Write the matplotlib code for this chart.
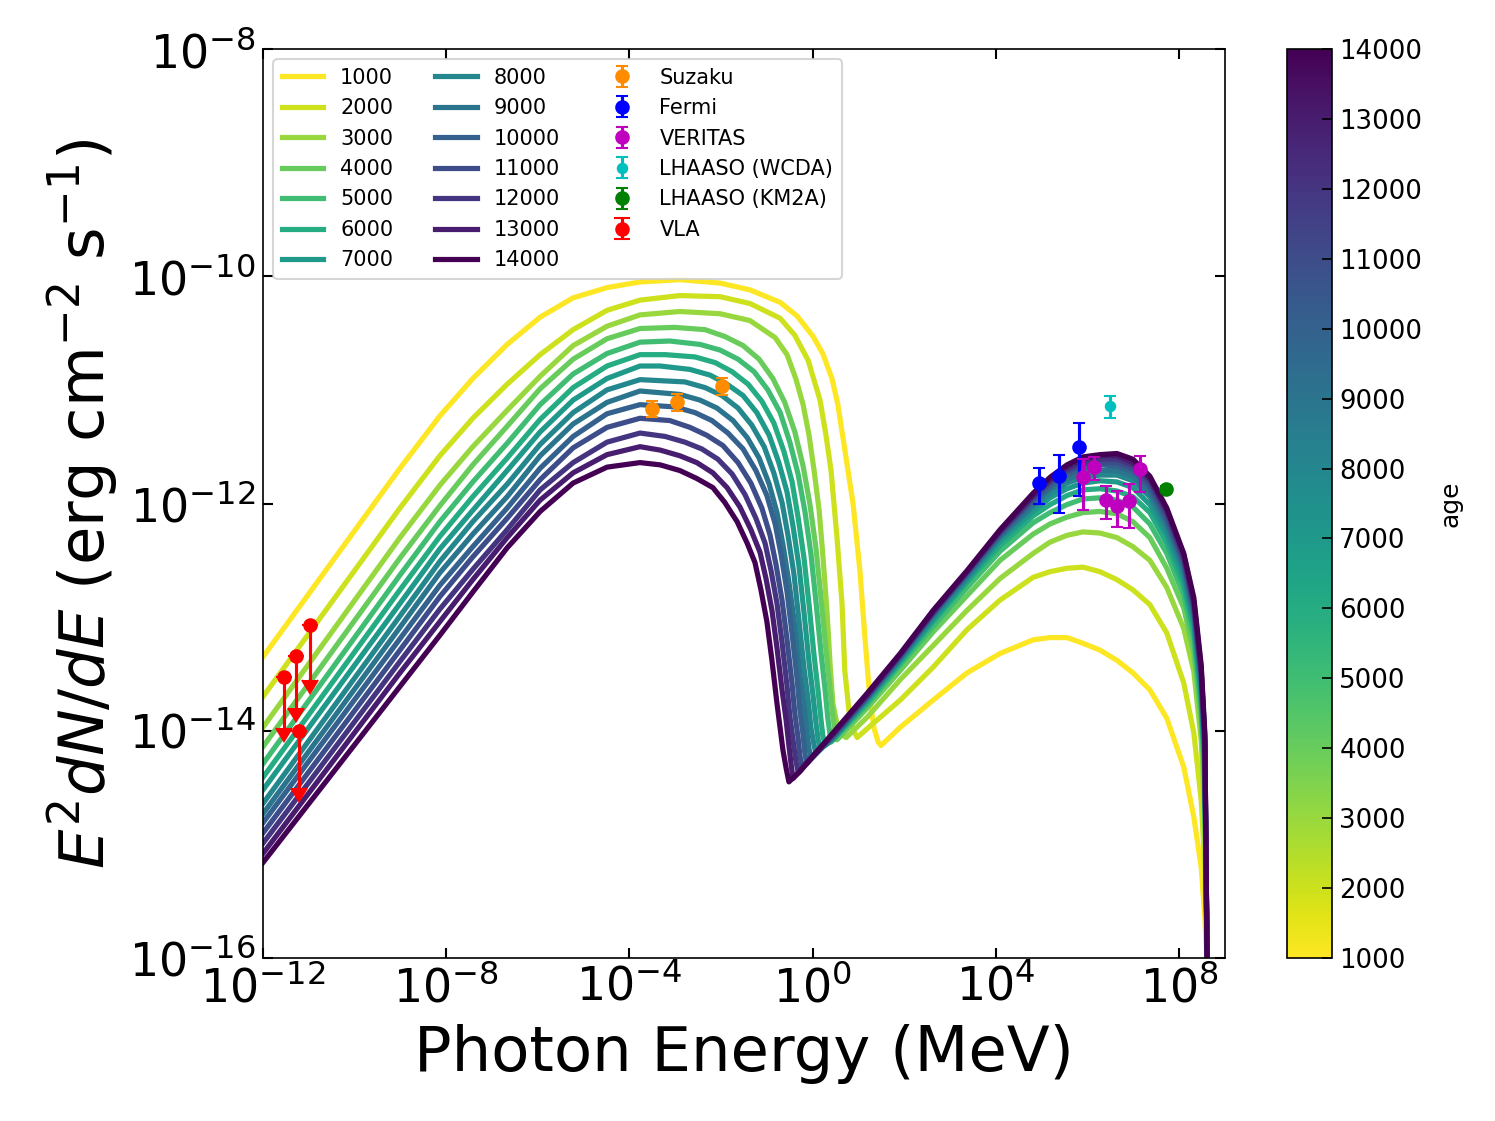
import numpy as np
import matplotlib
matplotlib.use("Agg")
import matplotlib.pyplot as plt
from matplotlib import colors
from matplotlib.ticker import FixedLocator, NullLocator, LogFormatterSciNotation

# ---------------- data (log10 values) ----------------
AGES = [1000, 2000, 3000, 4000, 5000, 6000, 7000, 8000, 9000, 10000, 11000, 12000, 13000, 14000]

# synchrotron rising part: common energy grid (log10 MeV)
SYNC_LOGE = [-12.00, -9.01, -8.14, -7.42, -6.67, -5.95, -5.23, -4.49, -3.77]
SYNC_LOGF = [
    [-13.35, -11.69, -11.23, -10.90, -10.60, -10.36, -10.19, -10.10, -10.05],
    [-13.70, -12.04, -11.58, -11.25, -10.95, -10.69, -10.47, -10.30, -10.21],
    [-13.97, -12.30, -11.84, -11.50, -11.18, -10.88, -10.61, -10.44, -10.34],
    [-14.14, -12.48, -12.02, -11.66, -11.32, -10.99, -10.73, -10.55, -10.46],
    [-14.29, -12.63, -12.16, -11.81, -11.47, -11.13, -10.86, -10.68, -10.58],
    [-14.41, -12.76, -12.29, -11.94, -11.60, -11.26, -10.98, -10.79, -10.69],
    [-14.52, -12.88, -12.40, -12.06, -11.71, -11.37, -11.09, -10.90, -10.79],
    [-14.64, -12.99, -12.51, -12.16, -11.83, -11.48, -11.20, -11.00, -10.91],
    [-14.73, -13.09, -12.61, -12.27, -11.94, -11.58, -11.30, -11.11, -11.01],
    [-14.81, -13.19, -12.72, -12.38, -12.04, -11.69, -11.41, -11.21, -11.13],
    [-14.90, -13.29, -12.82, -12.47, -12.13, -11.79, -11.51, -11.33, -11.25],
    [-14.99, -13.39, -12.93, -12.58, -12.23, -11.88, -11.64, -11.46, -11.38],
    [-15.08, -13.49, -13.04, -12.67, -12.30, -11.97, -11.73, -11.57, -11.50],
    [-15.16, -13.61, -13.16, -12.78, -12.39, -12.07, -11.82, -11.68, -11.64],
]

# synchrotron cut-off and dip region (per age)
CUT_LOGE = [
    [-2.90, -2.02, -1.37, -0.71, -0.34, 0.01, 0.22, 0.42, 0.55, 0.66, 0.77, 0.88, 1.03, 1.14, 1.25, 1.34, 1.43, 1.49],
    [-2.90, -2.02, -1.37, -0.71, -0.39, -0.10, 0.16, 0.29, 0.40, 0.53, 0.64, 0.70, 0.79, 0.88, 0.97, 1.25],
    [-2.90, -2.02, -1.37, -0.82, -0.56, -0.37, -0.21, -0.08, 0.03, 0.14, 0.22, 0.31, 0.38, 0.44, 0.53, 0.62, 0.73, 1.19],
    [-3.01, -2.35, -1.92, -1.52, -1.17, -0.87, -0.61, -0.39, -0.21, -0.06, 0.07, 0.18, 0.29, 0.38, 0.44, 0.49, 0.53, 1.19],
    [-3.12, -2.46, -2.02, -1.63, -1.28, -0.98, -0.71, -0.50, -0.32, -0.17, -0.04, 0.07, 0.18, 0.27, 0.33, 0.40, 1.19],
    [-3.22, -2.57, -2.13, -1.76, -1.41, -1.11, -0.85, -0.63, -0.45, -0.32, -0.19, -0.08, 0.03, 0.12, 0.18, 0.22, 0.27, 0.44, 1.19],
    [-3.33, -2.68, -2.24, -1.87, -1.52, -1.22, -0.95, -0.74, -0.56, -0.43, -0.30, -0.19, -0.08, 0.01, 0.07, 0.12, 0.16, 0.44, 1.19],
    [-2.79, -2.35, -1.98, -1.63, -1.33, -1.06, -0.85, -0.67, -0.54, -0.41, -0.30, -0.19, -0.10, -0.04, 0.03, 0.07, 0.44, 1.19],
    [-2.90, -2.46, -2.09, -1.74, -1.43, -1.17, -0.95, -0.78, -0.65, -0.52, -0.39, -0.28, -0.19, -0.13, -0.08, -0.04, 0.44, 1.19],
    [-3.01, -2.57, -2.20, -1.85, -1.52, -1.24, -1.00, -0.82, -0.69, -0.56, -0.45, -0.34, -0.28, -0.21, -0.17, -0.13, 0.44, 1.19],
    [-3.12, -2.68, -2.31, -1.96, -1.63, -1.35, -1.11, -0.93, -0.80, -0.67, -0.56, -0.45, -0.39, -0.32, -0.28, -0.23, 0.44, 1.19],
    [-3.22, -2.79, -2.42, -2.07, -1.76, -1.48, -1.24, -1.04, -0.91, -0.78, -0.67, -0.56, -0.50, -0.43, -0.37, -0.32, 0.44, 1.19],
    [-3.33, -2.90, -2.53, -2.18, -1.87, -1.59, -1.35, -1.15, -1.02, -0.89, -0.78, -0.67, -0.58, -0.52, -0.47, -0.43, 0.44, 1.19],
    [-3.33, -2.90, -2.53, -2.18, -1.92, -1.65, -1.43, -1.26, -1.13, -1.00, -0.89, -0.78, -0.71, -0.65, -0.58, -0.52, -0.28, 0.44, 1.19],
]
CUT_LOGF = [
    [-10.03, -10.06, -10.12, -10.23, -10.35, -10.53, -10.68, -10.90, -11.13, -11.42, -11.71, -12.00, -12.59, -13.18, -13.73, -13.98, -14.10, -14.13],
    [-10.17, -10.18, -10.24, -10.37, -10.52, -10.74, -11.09, -11.40, -11.71, -12.30, -12.88, -13.47, -13.82, -13.99, -14.06, -13.96],
    [-10.31, -10.33, -10.39, -10.54, -10.69, -10.90, -11.13, -11.40, -11.71, -12.06, -12.45, -12.94, -13.42, -13.76, -13.94, -14.03, -14.06, -13.88],
    [-10.45, -10.47, -10.53, -10.61, -10.73, -10.90, -11.11, -11.37, -11.67, -12.01, -12.39, -12.83, -13.29, -13.64, -13.87, -14.01, -14.08, -13.80],
    [-10.57, -10.60, -10.65, -10.73, -10.84, -11.00, -11.20, -11.46, -11.74, -12.07, -12.44, -12.86, -13.31, -13.64, -13.89, -14.10, -13.77],
    [-10.69, -10.71, -10.76, -10.84, -10.95, -11.10, -11.29, -11.54, -11.81, -12.12, -12.48, -12.89, -13.34, -13.66, -13.90, -14.04, -14.13, -14.08, -13.75],
    [-10.79, -10.82, -10.87, -10.95, -11.05, -11.20, -11.40, -11.64, -11.90, -12.20, -12.55, -12.96, -13.40, -13.70, -13.93, -14.08, -14.16, -14.07, -13.73],
    [-10.93, -10.98, -11.05, -11.16, -11.31, -11.50, -11.73, -11.99, -12.28, -12.62, -13.03, -13.45, -13.73, -13.97, -14.13, -14.20, -14.06, -13.72],
    [-11.04, -11.09, -11.16, -11.27, -11.42, -11.60, -11.83, -12.08, -12.36, -12.69, -13.08, -13.50, -13.77, -14.00, -14.16, -14.24, -14.06, -13.71],
    [-11.15, -11.20, -11.27, -11.38, -11.52, -11.71, -11.93, -12.18, -12.45, -12.78, -13.15, -13.55, -13.82, -14.04, -14.20, -14.29, -14.05, -13.70],
    [-11.27, -11.33, -11.40, -11.49, -11.64, -11.82, -12.04, -12.28, -12.54, -12.85, -13.20, -13.59, -13.85, -14.06, -14.22, -14.32, -14.04, -13.70],
    [-11.41, -11.46, -11.52, -11.61, -11.74, -11.92, -12.13, -12.35, -12.59, -12.88, -13.22, -13.61, -13.87, -14.08, -14.26, -14.36, -14.03, -13.69],
    [-11.53, -11.58, -11.64, -11.73, -11.86, -12.03, -12.23, -12.43, -12.66, -12.94, -13.27, -13.64, -13.91, -14.13, -14.30, -14.42, -14.03, -13.68],
    [-11.66, -11.71, -11.78, -11.86, -11.99, -12.16, -12.35, -12.52, -12.76, -13.04, -13.38, -13.76, -13.98, -14.17, -14.33, -14.45, -14.36, -14.02, -13.67],
]

# inverse-Compton part: common energy grid (log10 MeV)
IC_LOGE = [1.91, 2.63, 3.37, 4.09, 4.81, 5.18, 5.55, 5.90, 6.27, 6.64, 6.99, 7.36, 7.73, 8.10, 8.32, 8.48, 8.56, 8.61]
IC_LOGF = [
    [-13.97, -13.73, -13.49, -13.32, -13.20, -13.18, -13.18, -13.23, -13.29, -13.38, -13.49, -13.64, -13.89, -14.32, -14.76, -15.20, -15.64, -16.06],
    [-13.73, -13.44, -13.11, -12.85, -12.65, -12.60, -12.57, -12.56, -12.60, -12.67, -12.76, -12.89, -13.14, -13.58, -14.02, -14.61, -15.20, -16.06],
    [-13.55, -13.25, -12.94, -12.66, -12.44, -12.34, -12.28, -12.25, -12.26, -12.30, -12.38, -12.50, -12.74, -13.10, -13.48, -14.08, -14.74, -16.06],
    [-13.47, -13.13, -12.81, -12.50, -12.27, -12.18, -12.12, -12.08, -12.07, -12.09, -12.16, -12.30, -12.57, -12.92, -13.31, -13.91, -14.55, -16.06],
    [-13.42, -13.08, -12.74, -12.42, -12.17, -12.08, -12.01, -11.96, -11.95, -11.97, -12.03, -12.18, -12.44, -12.81, -13.20, -13.80, -14.43, -16.06],
    [-13.40, -13.04, -12.69, -12.37, -12.11, -12.01, -11.93, -11.88, -11.87, -11.89, -11.94, -12.08, -12.35, -12.73, -13.12, -13.73, -14.36, -16.06],
    [-13.38, -13.02, -12.67, -12.33, -12.07, -11.95, -11.87, -11.82, -11.80, -11.81, -11.86, -12.01, -12.28, -12.67, -13.06, -13.67, -14.30, -16.06],
    [-13.37, -13.00, -12.65, -12.30, -12.03, -11.91, -11.82, -11.77, -11.75, -11.75, -11.80, -11.94, -12.23, -12.61, -13.02, -13.62, -14.24, -16.06],
    [-13.36, -12.98, -12.63, -12.29, -12.01, -11.87, -11.79, -11.72, -11.71, -11.71, -11.76, -11.90, -12.18, -12.57, -12.97, -13.57, -14.20, -16.06],
    [-13.35, -12.97, -12.62, -12.27, -11.98, -11.85, -11.75, -11.69, -11.66, -11.67, -11.72, -11.86, -12.15, -12.53, -12.94, -13.54, -14.15, -16.06],
    [-13.34, -12.96, -12.61, -12.26, -11.96, -11.82, -11.72, -11.66, -11.64, -11.64, -11.69, -11.83, -12.11, -12.51, -12.91, -13.50, -14.12, -16.06],
    [-13.33, -12.96, -12.60, -12.25, -11.94, -11.80, -11.70, -11.64, -11.61, -11.61, -11.66, -11.80, -12.08, -12.48, -12.89, -13.48, -14.08, -16.06],
    [-13.33, -12.95, -12.60, -12.24, -11.93, -11.79, -11.68, -11.61, -11.58, -11.58, -11.64, -11.78, -12.06, -12.45, -12.86, -13.45, -14.06, -16.06],
    [-13.32, -12.94, -12.59, -12.23, -11.91, -11.77, -11.66, -11.59, -11.57, -11.56, -11.61, -11.76, -12.04, -12.44, -12.83, -13.42, -14.02, -16.06],
]

# observational data (log10 E [MeV], log10 flux, log10 of error ends)
SUZAKU_LOGE = [-3.51, -2.96, -1.98]
SUZAKU_LOGF = [-11.17, -11.11, -10.97]
SUZAKU_LOGERR = [0.07, 0.075, 0.075]

FERMI_LOGE = [4.94, 5.38, 5.81]
FERMI_LOGF = [-11.82, -11.76, -11.50]
FERMI_LOGLO = [-12.00, -12.08, -11.93]
FERMI_LOGHI = [-11.69, -11.57, -11.29]

VERITAS_LOGE = [5.90, 6.14, 6.40, 6.64, 6.90, 7.14]
VERITAS_LOGF = [-11.77, -11.68, -11.97, -12.02, -11.98, -11.70]
VERITAS_LOGLO = [-12.06, -11.79, -12.14, -12.21, -12.22, -11.90]
VERITAS_LOGHI = [-11.61, -11.59, -11.85, -11.89, -11.83, -11.58]

WCDA_LOGE = [6.50]
WCDA_LOGF = [-11.14]
WCDA_LOGLO = [-11.25]
WCDA_LOGHI = [-11.05]

KM2A_LOGE = [7.71]
KM2A_LOGF = [-11.87]
KM2A_LOGERR = [0.02]

VLA_LOGE = [-11.54, -11.28, -10.97, -11.21]
VLA_LOGF = [-13.53, -13.34, -13.07, -14.00]
VLA_LOGTIP = [-13.98, -13.80, -13.55, -14.50]

X_TICKS = [1e-12, 1e-8, 1e-4, 1e0, 1e4, 1e8]
Y_TICKS = [1e-16, 1e-14, 1e-12, 1e-10, 1e-8]
CB_TICKS = list(range(1000, 14001, 1000))

# ---------------- figure ----------------
fig = plt.figure(figsize=(1495 / 150, 1121 / 150), dpi=150)
ax = fig.add_axes([263 / 1495, 1 - 958 / 1121, (1225 - 263) / 1495, (958 - 49) / 1121])
cax = fig.add_axes([1287 / 1495, 1 - 958 / 1121, 45 / 1495, (958 - 49) / 1121])

cmap = plt.get_cmap("viridis_r")
norm = colors.Normalize(vmin=min(AGES), vmax=max(AGES))

for i, age in enumerate(AGES):
    le = np.array(SYNC_LOGE + CUT_LOGE[i] + IC_LOGE)
    lf = np.array(SYNC_LOGF[i] + CUT_LOGF[i] + IC_LOGF[i])
    ax.plot(10 ** le, 10 ** lf, color=cmap(norm(age)), lw=2.5, label=str(age),
            solid_joinstyle="round")


def asym(lf, lo, hi):
    f = 10 ** np.array(lf, dtype=float)
    return f, np.vstack([f - 10 ** np.array(lo, dtype=float), 10 ** np.array(hi, dtype=float) - f])


f, e = asym(SUZAKU_LOGF, np.array(SUZAKU_LOGF) - np.array(SUZAKU_LOGERR),
            np.array(SUZAKU_LOGF) + np.array(SUZAKU_LOGERR))
ax.errorbar(10 ** np.array(SUZAKU_LOGE), f, yerr=e, fmt="o", color="darkorange",
            ms=6, capsize=3, label="Suzaku", zorder=30)
f, e = asym(FERMI_LOGF, FERMI_LOGLO, FERMI_LOGHI)
ax.errorbar(10 ** np.array(FERMI_LOGE), f, yerr=e, fmt="o", color="b",
            ms=6, capsize=3, label="Fermi", zorder=30)
f, e = asym(VERITAS_LOGF, VERITAS_LOGLO, VERITAS_LOGHI)
ax.errorbar(10 ** np.array(VERITAS_LOGE), f, yerr=e, fmt="o", color="m",
            ms=6, capsize=3, label="VERITAS", zorder=30)
f, e = asym(WCDA_LOGF, WCDA_LOGLO, WCDA_LOGHI)
ax.errorbar(10 ** np.array(WCDA_LOGE), f, yerr=e, fmt="o", color="c",
            ms=4.5, capsize=3, label="LHAASO (WCDA)", zorder=30)
f, e = asym(KM2A_LOGF, np.array(KM2A_LOGF) - np.array(KM2A_LOGERR),
            np.array(KM2A_LOGF) + np.array(KM2A_LOGERR))
ax.errorbar(10 ** np.array(KM2A_LOGE), f, yerr=e, fmt="o", color="g",
            ms=6, capsize=3, label="LHAASO (KM2A)", zorder=30)
f = 10 ** np.array(VLA_LOGF)
ax.errorbar(10 ** np.array(VLA_LOGE), f, yerr=f - 10 ** np.array(VLA_LOGTIP),
            uplims=True, fmt="o", color="r", ms=6, capsize=4, label="VLA", zorder=30)

ax.set_xscale("log")
ax.set_yscale("log")
ax.set_xlim(1e-12, 1e9)
ax.set_ylim(1e-16, 1e-8)
ax.xaxis.set_major_locator(FixedLocator(X_TICKS))
ax.yaxis.set_major_locator(FixedLocator(Y_TICKS))
ax.xaxis.set_major_formatter(LogFormatterSciNotation())
ax.yaxis.set_major_formatter(LogFormatterSciNotation())
ax.xaxis.set_minor_locator(NullLocator())
ax.yaxis.set_minor_locator(NullLocator())
ax.tick_params(which="both", direction="in", top=True, right=True,
               labelsize=22, length=5, width=1)
ax.set_xlabel("Photon Energy (MeV)", fontsize=30, labelpad=6)
ax.set_ylabel(r"$E^2dN/dE$ (erg cm$^{-2}$ s$^{-1}$)", fontsize=30)

ax.legend(ncol=3, loc="upper left", fontsize=10)

sm = plt.cm.ScalarMappable(cmap=cmap, norm=norm)
cb = fig.colorbar(sm, cax=cax, ticks=CB_TICKS)
cb.ax.tick_params(labelsize=12.5, direction="in", length=5)
cb.set_label("age", fontsize=12, labelpad=8)

fig.savefig("out.png", dpi=150)
